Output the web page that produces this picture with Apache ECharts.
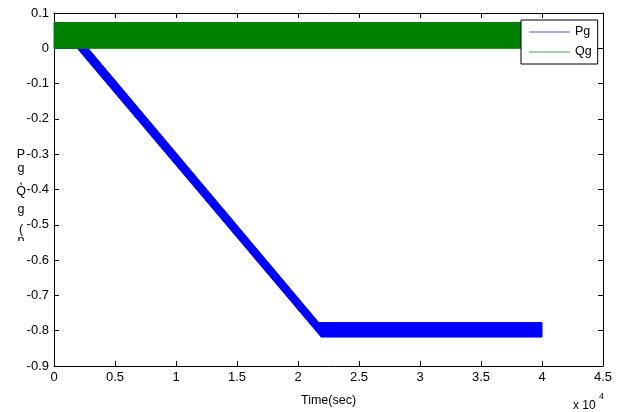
<!DOCTYPE html>
<html><head><meta charset="utf-8">
<script src="https://cdn.jsdelivr.net/npm/echarts@6/dist/echarts.min.js"></script>
<style>html,body{margin:0;padding:0;background:#fff}#c{width:630px;height:412px}</style>
</head><body><div id="c"></div>
<script>
const seriesNames = ['Pg', 'Qg'];
const seriesColors = ['#0000ff', '#008000'];
// envelope of the dense oscillation bands (upper / lower edges)
const pgUpper = [[0, 0], [2800, 0], [21700, -0.777], [40000, -0.777]];
const pgLower = [[0, 0], [1900, 0], [21900, -0.818], [40000, -0.818]];
const qgUpper = [[0, 0.073], [40000, 0.073]];
const qgLower = [[0, 0], [40000, 0]];
const xTickLabels = ['0', '0.5', '1', '1.5', '2', '2.5', '3', '3.5', '4', '4.5'];
const yTickLabels = ['-0.9', '-0.8', '-0.7', '-0.6', '-0.5', '-0.4', '-0.3', '-0.2', '-0.1', '0', '0.1'];
const yTitleChars = ['P', 'g', ',', 'Q', 'g', '(', 'p'];
const xTitle = 'Time(sec)';
const xMultiplier = ['x 10', '4'];

const FONT = "'Liberation Sans', Arial, sans-serif";

function bandData(upper, lower) {
  const d = [];
  for (let i = 0; i < upper.length - 1; i++) {
    d.push([upper[i][0], upper[i][1], upper[i + 1][0], upper[i + 1][1],
            lower[i + 1][0], lower[i + 1][1], lower[i][0], lower[i][1]]);
  }
  return d;
}
function renderBand(params, api) {
  const pts = [];
  for (let k = 0; k < 4; k++) pts.push(api.coord([api.value(2 * k), api.value(2 * k + 1)]));
  const c = api.visual('color');
  return { type: 'polygon', shape: { points: pts }, style: { fill: c, stroke: c, lineWidth: 1 } };
}

const xCommon = {
  type: 'value', min: 0, max: 45000, interval: 5000,
  axisLine: { onZero: false, lineStyle: { color: '#000', width: 1 } },
  axisTick: { inside: true, length: 5, lineStyle: { color: '#000' } },
  splitLine: { show: false }
};
const yCommon = {
  type: 'value', min: -0.9, max: 0.1, interval: 0.1,
  axisLine: { onZero: false, lineStyle: { color: '#000', width: 1 } },
  axisTick: { inside: true, length: 5, lineStyle: { color: '#000' } },
  splitLine: { show: false }
};

const graphics = [];
const yCenters = [154.5, 169, 181, 192, 210, 230, 241];
yTitleChars.forEach((ch, i) => {
  graphics.push({ type: 'text', x: 21, y: yCenters[i], z: 10,
    style: { text: ch, fill: '#000', font: '12.5px ' + FONT, textAlign: 'center', textVerticalAlign: 'middle' } });
});
graphics.push({ type: 'rect', z: 11, shape: { x: 12, y: 241, width: 18, height: 14 }, style: { fill: '#fff' } });
graphics.push({ type: 'text', x: 573, y: 400, z: 10, style: { text: xMultiplier[0], fill: '#000', font: '12px ' + FONT, textVerticalAlign: 'top' } });
graphics.push({ type: 'text', x: 599, y: 392, z: 10, style: { text: xMultiplier[1], fill: '#000', font: '9px ' + FONT, textVerticalAlign: 'top' } });

const chart = echarts.init(document.getElementById('c'), null, { renderer: 'canvas' });
chart.setOption({
  animation: false,
  backgroundColor: '#fff',
  textStyle: { fontFamily: FONT },
  grid: { left: 54, right: 27, top: 13, bottom: 42, containLabel: false },
  xAxis: [
    Object.assign({}, xCommon, {
      position: 'bottom',
      axisLabel: { formatter: v => xTickLabels[Math.round(v / 5000)], color: '#000', fontSize: 13, margin: 5, fontFamily: FONT },
      name: xTitle, nameLocation: 'middle', nameGap: 28,
      nameTextStyle: { color: '#000', fontSize: 12.5, fontFamily: FONT }
    }),
    Object.assign({}, xCommon, { position: 'top', axisLabel: { show: false } })
  ],
  yAxis: [
    Object.assign({}, yCommon, {
      position: 'left',
      axisLabel: { formatter: v => yTickLabels[Math.round((v + 0.9) * 10)], color: '#000', fontSize: 13, margin: 5, fontFamily: FONT }
    }),
    Object.assign({}, yCommon, { position: 'right', axisLabel: { show: false } })
  ],
  legend: {
    orient: 'vertical', left: 521, top: 20,
    backgroundColor: '#fff', borderColor: '#000', borderWidth: 1,
    padding: [5, 6, 5, 8], itemGap: 6, itemWidth: 41, itemHeight: 1.2,
    textStyle: { color: '#000', fontSize: 12.5, fontFamily: FONT, lineHeight: 14 },
    data: [
      { name: seriesNames[0], icon: 'rect', itemStyle: { color: '#5050ff' } },
      { name: seriesNames[1], icon: 'rect', itemStyle: { color: '#50a050' } }
    ]
  },
  series: [
    { name: seriesNames[0], type: 'custom', xAxisIndex: 0, yAxisIndex: 0, color: seriesColors[0],
      renderItem: renderBand, encode: { x: [0, 2, 4, 6], y: [1, 3, 5, 7] },
      data: bandData(pgUpper, pgLower), z: 2 },
    { name: seriesNames[1], type: 'custom', xAxisIndex: 0, yAxisIndex: 0, color: seriesColors[1],
      renderItem: renderBand, encode: { x: [0, 2, 4, 6], y: [1, 3, 5, 7] },
      data: bandData(qgUpper, qgLower), z: 3 }
  ],
  graphic: graphics
});
</script></body></html>
